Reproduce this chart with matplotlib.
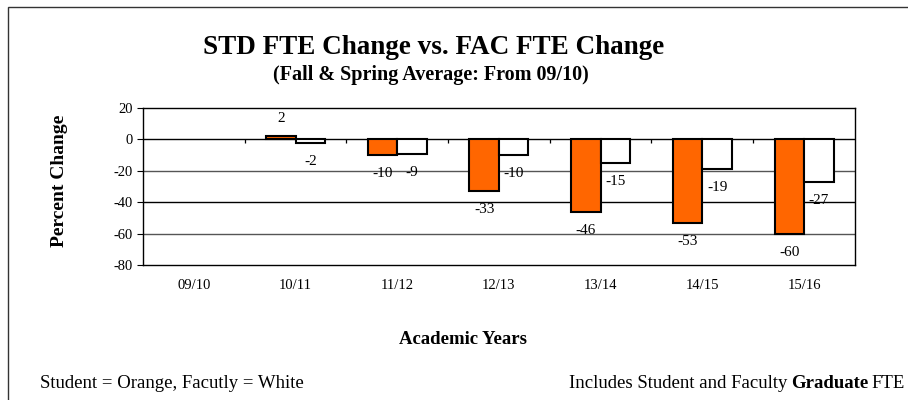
import numpy as np
import matplotlib.pyplot as plt
from matplotlib.patches import Rectangle

plt.rcParams['font.family'] = ['Liberation Serif', 'DejaVu Serif']
plt.rcParams['axes.unicode_minus'] = False

years = ['09/10', '10/11', '11/12', '12/13', '13/14', '14/15', '15/16']
student = [0, 2, -10, -33, -46, -53, -60]
faculty = [0, -2, -9, -10, -15, -19, -27]
show_label = [False, True, True, True, True, True, True]

fig = plt.figure(figsize=(9.08, 4.0), dpi=100)
ax = fig.add_axes([0.1575, 0.3375, 0.784, 0.3925])

x = np.arange(len(years))
w = 0.29
# base year has no change, so no outline either
edges = ['black' if s else 'none' for s in show_label]
ax.bar(x - w / 2, student, w, color='#FF6600', edgecolor=edges, linewidth=1.5, zorder=3)
ax.bar(x + w / 2, faculty, w, color='white', edgecolor=edges, linewidth=1.5, zorder=3)

for i in range(len(years)):
    if not show_label[i]:
        continue
    for xi, v in ((x[i] - w / 2, student[i]), (x[i] + w / 2, faculty[i])):
        off = 12.5 if v > 0 else -13.5
        ax.annotate(str(v), (xi, v), xytext=(0, off), textcoords='offset points',
                    ha='center', va='center', fontsize=11, zorder=4)

ax.set_xlim(-0.5, len(years) - 0.5)
ax.set_ylim(-80, 20)
ax.set_yticks([20, 0, -20, -40, -60, -80])
ax.set_xticks(x)
ax.set_xticklabels(years, fontsize=10.5)
ax.tick_params(axis='x', length=0, pad=10)
ax.tick_params(axis='y', labelsize=10.5, length=4, direction='out')
for yv, c in [(0, 'black'), (-20, '#555555'), (-40, 'black'), (-60, '#555555')]:
    ax.axhline(yv, color=c, linewidth=1.0, zorder=1)
# small tick marks on the zero line between categories
ax.vlines(x[1:] - 0.5, -2.5, 0, color='black', linewidth=0.9, zorder=2)
for s in ax.spines.values():
    s.set_linewidth(1.0)

ax.set_ylabel('Percent Change', fontsize=14, fontweight='bold')
ax.yaxis.set_label_coords(-0.106, 0.535)

fig.text(434 / 908, 1 - 47 / 400, 'STD FTE Change vs. FAC FTE Change',
         ha='center', va='center', fontsize=19.5, fontweight='bold')
fig.text(431 / 908, 1 - 75 / 400, '(Fall & Spring Average: From 09/10)',
         ha='center', va='center', fontsize=14.5, fontweight='bold')
fig.text(463 / 908, 1 - 339 / 400, 'Academic Years',
         ha='center', va='center', fontsize=13.5, fontweight='bold')

fig.text(40 / 908, 1 - 384 / 400, 'Student = Orange, Facutly = White',
         ha='left', va='center', fontsize=13.5)
t1 = fig.text(905 / 908, 1 - 384 / 400, 'FTE', ha='right', va='center', fontsize=13.5)
a2 = fig.add_artist(plt.Annotation('Graduate', xy=(0, 0), xycoords=t1, xytext=(-2, 0),
                                   textcoords='offset points', ha='right', va='bottom',
                                   fontsize=13.5, fontweight='bold'))
fig.add_artist(plt.Annotation('Includes Student and Faculty', xy=(0, 0), xycoords=a2,
                              xytext=(-3, 0), textcoords='offset points', ha='right',
                              va='bottom', fontsize=13.5))

fig.add_artist(Rectangle((8 / 908, -0.1), 1.2, 1 - 7 / 400 + 0.1, transform=fig.transFigure,
                         fill=False, edgecolor='#333333', linewidth=1.0))

fig.savefig('out.png', dpi=100)
